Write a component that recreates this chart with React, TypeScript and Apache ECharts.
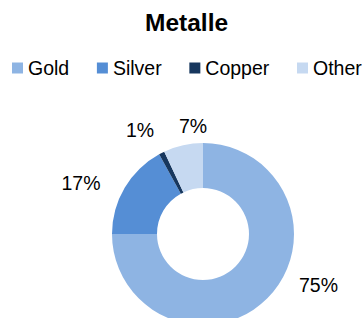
import React, { useEffect, useRef } from "react";
import * as echarts from "echarts";

const categories = ["Gold", "Silver", "Copper", "Other"];
const values = [75, 17, 1, 7];
const colors = ["#8EB4E3", "#558ED5", "#17375E", "#C6D9F1"];
// label centre positions (pixels) as placed in the reference
const labelPos: [number, number][] = [
  [318.5, 285],
  [81, 183],
  [140, 130],
  [193, 126],
];

export default function App() {
  const ref = useRef<HTMLDivElement>(null);
  useEffect(() => {
    if (!ref.current) return;
    const chart = echarts.init(ref.current, null, { renderer: "svg" });
    const font = "'Liberation Sans', Arial, sans-serif";
    chart.setOption({
      animation: false,
      backgroundColor: "#ffffff",
      title: {
        text: "Metalle",
        left: 145,
        top: 10,
        padding: 0,
        textStyle: { fontFamily: font, fontSize: 24.5, fontWeight: "bold", color: "#000" },
      },
      legend: {
        data: categories,
        left: 12,
        top: 58,
        padding: 0,
        itemGap: 27.7,
        itemWidth: 11,
        itemHeight: 11,
        icon: "rect",
        textStyle: { fontFamily: font, fontSize: 19.5, color: "#000" },
      },
      series: [
        {
          type: "pie",
          center: [203, 234],
          radius: [46, 91],
          startAngle: 90,
          clockwise: true,
          avoidLabelOverlap: false,
          data: categories.map((c, i) => ({
            name: c,
            value: values[i],
            itemStyle: { color: colors[i] },
          })),
          label: {
            show: true,
            position: "outside",
            formatter: (p: any) => p.value + "%",
            fontFamily: font,
            fontSize: 19.5,
            color: "#000",
          },
          labelLine: { show: false },
          labelLayout: (p: any) => ({
            x: labelPos[p.dataIndex][0],
            y: labelPos[p.dataIndex][1],
            align: "center",
            verticalAlign: "middle",
          }),
          emphasis: { disabled: true },
        },
      ],
    });
    return () => chart.dispose();
  }, []);
  return (
    <div
      ref={ref}
      style={{ position: "fixed", left: 0, top: 0, width: 362, height: 318 }}
    />
  );
}
